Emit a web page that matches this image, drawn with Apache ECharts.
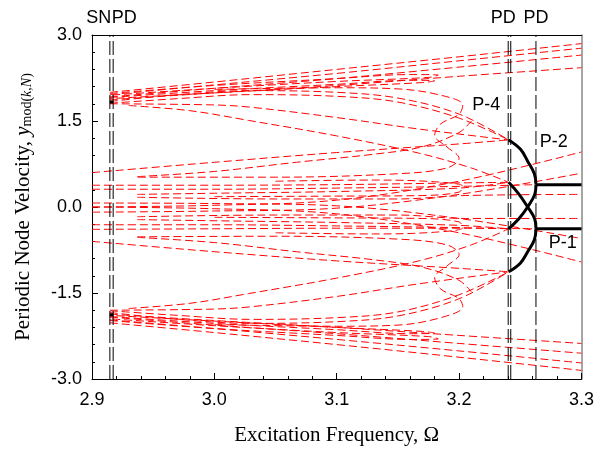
<!DOCTYPE html>
<html><head><meta charset="utf-8">
<script src="https://cdn.jsdelivr.net/npm/echarts@6/dist/echarts.min.js"></script>
<style>html,body{margin:0;padding:0;background:#fff}#c{width:597px;height:451px}</style>
</head><body><div id="c"></div>
<script>
// ---- axis ticks ----
const xTicks = [2.9, 3.0, 3.1, 3.2, 3.3];
const yTicks = [-3.0, -1.5, 0.0, 1.5, 3.0];

// ---- bifurcation points (Omega) ----
const bifSN = 2.9146;
const bifPD1 = 2.9173;
const bifPD2a = 3.2401;
const bifPD2b = 3.2422;
const bifPD3 = 3.2628;

// ---- stable (black) branches ----
const p1Upper = [[3.2628, 0.39], [3.3, 0.39]];
const p1Lower = [[3.2628, -0.38], [3.3, -0.38]];
const p2OuterUp = [[3.2405, 1.17], [3.250, 1.01], [3.256, 0.80], [3.2615, 0.58], [3.2628, 0.39]];
const p2InnerUp = [[3.2628, 0.39], [3.2618, 0.22], [3.256, 0.0], [3.249, -0.20], [3.2405, -0.38]];
const p2InnerLo = [[3.2628, -0.38], [3.2618, -0.21], [3.256, 0.0], [3.249, 0.22], [3.2405, 0.43]];
const p2OuterLo = [[3.2628, -0.38], [3.2615, -0.57], [3.256, -0.78], [3.250, -0.98], [3.2405, -1.13]];
const snMarkUp = [[2.9146, 1.83], [2.9173, 1.83]];
const snMarkLo = [[2.9146, -1.88], [2.9173, -1.88]];

// ---- unstable (red dashed) branches ----
const outerU1 = [[2.9146, 2.00], [3.0, 2.18], [3.1, 2.40], [3.2, 2.62], [3.3, 2.85]];
const outerU2 = [[2.9146, 1.96], [3.0, 2.13], [3.1, 2.33], [3.2, 2.55], [3.3, 2.77]];
const outerU3 = [[2.9146, 1.92], [3.0, 2.07], [3.1, 2.24], [3.2, 2.44], [3.3, 2.65]];
const outerU4 = [[2.9146, 1.87], [3.0, 1.99], [3.1, 2.12], [3.2, 2.28], [3.3, 2.43]];
const outerL1 = [[2.9146, -2.02], [3.0, -2.19], [3.1, -2.40], [3.2, -2.62], [3.3, -2.85]];
const outerL2 = [[2.9146, -1.97], [3.0, -2.12], [3.1, -2.31], [3.2, -2.51], [3.3, -2.72]];
const outerL3 = [[2.9146, -1.92], [3.0, -2.06], [3.1, -2.21], [3.2, -2.38], [3.3, -2.55]];
const outerL4 = [[2.9146, -1.87], [3.0, -1.98], [3.1, -2.10], [3.2, -2.24], [3.3, -2.38]];

const foldU1 = [[2.9146, 1.98], [3.0, 2.12], [3.1, 2.24], [3.16, 2.31], [3.183, 2.30], [3.175, 2.26], [3.1, 2.19], [3.0, 2.07], [2.9146, 1.95]];
const foldU2 = [[2.9146, 1.91], [3.0, 2.03], [3.1, 2.14], [3.16, 2.21], [3.18, 2.20], [3.17, 2.17], [3.1, 2.10], [3.0, 1.99], [2.9146, 1.89]];
const foldL1 = [[2.9146, -1.98], [3.0, -2.12], [3.1, -2.24], [3.16, -2.31], [3.183, -2.30], [3.175, -2.26], [3.1, -2.19], [3.0, -2.07], [2.9146, -1.95]];
const foldL2 = [[2.9146, -1.91], [3.0, -2.03], [3.1, -2.14], [3.16, -2.21], [3.18, -2.20], [3.17, -2.17], [3.1, -2.10], [3.0, -1.99], [2.9146, -1.89]];

const descU1 = [[2.9146, 1.84], [2.97, 1.96], [3.03, 2.03], [3.1, 2.0], [3.15, 1.90], [3.2, 1.62], [3.2405, 1.17]];
const descU2 = [[2.9146, 1.81], [2.97, 1.89], [3.03, 1.96], [3.1, 1.93], [3.15, 1.83], [3.2, 1.55], [3.2405, 1.17]];
const descU3 = [[2.9146, 1.80], [3.0, 1.78], [3.03, 1.74], [3.1, 1.56], [3.167, 1.36], [3.2405, 1.17]];
const descU4 = [[2.93, 1.77], [2.98, 1.68], [3.028, 1.51], [3.1, 1.24], [3.167, 0.94], [3.21, 0.68], [3.2405, 0.43]];
const descL1 = [[2.9146, -1.84], [2.97, -1.96], [3.03, -2.03], [3.1, -2.0], [3.15, -1.90], [3.2, -1.60], [3.2405, -1.13]];
const descL2 = [[2.9146, -1.81], [2.97, -1.89], [3.03, -1.96], [3.1, -1.93], [3.15, -1.83], [3.2, -1.53], [3.2405, -1.13]];
const descL3 = [[2.9146, -1.80], [3.0, -1.78], [3.03, -1.74], [3.1, -1.56], [3.167, -1.34], [3.2405, -1.13]];
const descL4 = [[2.93, -1.77], [2.98, -1.68], [3.028, -1.51], [3.1, -1.24], [3.167, -0.94], [3.21, -0.66], [3.2405, -0.38]];

const snakeU = [[3.0, 2.05], [3.1, 2.08], [3.15, 2.06], [3.185, 1.95], [3.203, 1.78], [3.2, 1.62], [3.185, 1.45], [3.18, 1.25], [3.19, 1.05], [3.2, 0.85], [3.19, 0.68], [3.15, 0.58], [3.05, 0.52], [2.937, 0.52]];
const snakeL = [[3.0, -2.05], [3.1, -2.08], [3.15, -2.06], [3.185, -1.93], [3.203, -1.74], [3.2, -1.60], [3.185, -1.43], [3.18, -1.23], [3.19, -1.03], [3.2, -0.83], [3.19, -0.66], [3.15, -0.56], [3.05, -0.51], [2.937, -0.52]];
const riseU = [[2.937, 0.53], [3.0, 0.62], [3.067, 0.78], [3.13, 0.92], [3.17, 1.05], [3.2, 1.30], [3.21, 1.50]];
const riseL = [[2.937, -0.53], [3.0, -0.62], [3.067, -0.78], [3.13, -0.92], [3.17, -1.05], [3.2, -1.28], [3.21, -1.48]];

const p2UnstUp = [[2.9, 0.60], [3.0, 0.78], [3.1, 0.95], [3.2, 1.10], [3.2405, 1.17]];
const p2UnstLo = [[2.9, -0.60], [3.0, -0.78], [3.1, -0.94], [3.2, -1.07], [3.2405, -1.13]];
const p2UnstUp2 = [[2.9, 0.38], [3.0, 0.38], [3.1, 0.39], [3.2, 0.42], [3.2405, 0.43]];
const p2UnstLo2 = [[2.9, -0.31], [3.0, -0.31], [3.1, -0.33], [3.2, -0.36], [3.2405, -0.38]];
const p1UnstUp = [[2.9, 0.31], [3.0, 0.31], [3.1, 0.33], [3.2, 0.36], [3.2628, 0.39]];
const p1UnstLo = [[2.9, -0.39], [3.0, -0.38], [3.1, -0.37], [3.2, -0.37], [3.2628, -0.38]];

const crossA = [[2.9, 0.07], [3.0, 0.06], [3.1, 0.02], [3.2, -0.20], [3.3, -0.55]];
const crossB = [[2.9, -0.09], [3.0, -0.07], [3.1, -0.02], [3.2, 0.22], [3.3, 0.59]];
const crossC = [[2.9, 0.0], [3.0, 0.03], [3.1, 0.12], [3.2, 0.45], [3.3, 0.96]];
const crossD = [[2.9, 0.0], [3.0, -0.03], [3.1, -0.12], [3.2, -0.45], [3.3, -0.96]];
const crossE = [[2.937, 0.17], [3.05, 0.14], [3.15, 0.14], [3.205, 0.20], [3.3, 0.22]];
const crossF = [[2.937, -0.17], [3.05, -0.14], [3.15, -0.14], [3.205, -0.20], [3.3, -0.20]];
const midU = [[2.937, 0.22], [3.0, 0.24], [3.1, 0.27], [3.2, 0.33], [3.2405, 0.43]];
const midL = [[2.937, -0.22], [3.0, -0.24], [3.1, -0.27], [3.2, -0.32], [3.2405, -0.38]];
const noseU = [[3.05, 0.45], [3.13, 0.47], [3.18, 0.44], [3.203, 0.36], [3.2, 0.26], [3.17, 0.20], [3.1, 0.19], [3.0, 0.18]];
const noseL = [[3.05, -0.45], [3.13, -0.47], [3.18, -0.44], [3.203, -0.36], [3.2, -0.26], [3.17, -0.20], [3.1, -0.19], [3.0, -0.18]];

const redCurves = [outerU1, outerU2, outerU3, outerU4, outerL1, outerL2, outerL3, outerL4,
  foldU1, foldU2, foldL1, foldL2, descU1, descU2, descU3, descU4, descL1, descL2, descL3, descL4,
  snakeU, snakeL, riseU, riseL, p2UnstUp, p2UnstLo, p2UnstUp2, p2UnstLo2, p1UnstUp, p1UnstLo,
  crossA, crossB, crossC, crossD, crossE, crossF, midU, midL, noseU, noseL];
const blackCurves = [p1Upper, p1Lower, p2OuterUp, p2InnerUp, p2InnerLo, p2OuterLo, snMarkUp, snMarkLo];
const vLines = [bifSN, bifPD1, bifPD2a, bifPD2b, bifPD3];

const chart = echarts.init(document.getElementById('c'), null, {renderer: 'canvas'});
const series = [];
redCurves.forEach(d => series.push({type: 'line', data: d, symbol: 'none', smooth: 0.35, silent: true,
  lineStyle: {color: '#ff0000', width: 1, type: [8, 4]}, z: 2}));
vLines.forEach(v => series.push({type: 'line', data: [[v, -3], [v, 3]], symbol: 'none', silent: true,
  lineStyle: {color: '#000', width: 1, type: [14, 4]}, z: 3}));
blackCurves.forEach(d => series.push({type: 'line', data: d, symbol: 'none', smooth: 0.4, silent: true,
  lineStyle: {color: '#000', width: 3}, z: 4}));

const tickFont = {fontFamily: 'Liberation Sans', fontSize: 18, color: '#000'};
chart.setOption({
  animation: false,
  grid: {left: 92, right: 13, top: 35, bottom: 72},
  xAxis: [{
    type: 'value', min: 2.9, max: 3.3, interval: 0.1,
    axisLine: {onZero: false, lineStyle: {color: '#000', width: 1}},
    axisTick: {inside: true, length: 6, lineStyle: {color: '#000'}},
    minorTick: {show: true, splitNumber: 5, length: 3, lineStyle: {color: '#000'}},
    splitLine: {show: false},
    axisLabel: Object.assign({margin: 12, formatter: v => v.toFixed(1)}, tickFont),
    name: 'Excitation Frequency, Ω', nameLocation: 'middle', nameGap: 46,
    nameTextStyle: {fontFamily: 'Liberation Serif', fontSize: 21, color: '#000'}
  }, {
    type: 'value', position: 'top', min: 2.9, max: 3.3,
    axisLine: {onZero: false, lineStyle: {color: '#000', width: 1}}, axisTick: {show: false}, axisLabel: {show: false}, splitLine: {show: false}
  }],
  yAxis: [{
    type: 'value', min: -3, max: 3, interval: 1.5,
    axisLine: {onZero: false, lineStyle: {color: '#000', width: 1}},
    axisTick: {inside: true, length: 6, lineStyle: {color: '#000'}},
    minorTick: {show: true, splitNumber: 5, length: 3, lineStyle: {color: '#000'}},
    splitLine: {show: false},
    axisLabel: Object.assign({margin: 10, formatter: v => v.toFixed(1)}, tickFont),
    name: '{a|Periodic Node Velocity, }{i|y}{s|mod(}{si|k}{s|,}{si|N}{s|)}', nameLocation: 'middle', nameGap: 58, nameRotate: 90,
    nameTextStyle: {rich: {
      a: {fontFamily: 'Liberation Serif', fontSize: 21, color: '#000'},
      i: {fontFamily: 'Liberation Serif', fontSize: 21, fontStyle: 'italic', color: '#000'},
      s: {fontFamily: 'Liberation Serif', fontSize: 14, color: '#000', padding: [8, 0, 0, 0]},
      si: {fontFamily: 'Liberation Serif', fontSize: 14, fontStyle: 'italic', color: '#000', padding: [8, 0, 0, 0]}
    }}
  }, {
    type: 'value', position: 'right', min: -3, max: 3,
    axisLine: {onZero: false, lineStyle: {color: '#888', width: 1.5}}, axisTick: {show: false}, axisLabel: {show: false}, splitLine: {show: false}
  }],
  series: series
});

const annos = [
  {t: 'SN', x: bifSN, y: 3.0, dx: -11, dy: -17},
  {t: 'PD', x: bifPD1, y: 3.0, dx: 11, dy: -17},
  {t: 'PD', x: bifPD2a, y: 3.0, dx: -5, dy: -17},
  {t: 'PD', x: bifPD3, y: 3.0, dx: 0, dy: -17},
  {t: 'P-4', x: 3.21, y: 1.78, dx: 15, dy: 0},
  {t: 'P-2', x: 3.265, y: 1.15, dx: 15, dy: 1},
  {t: 'P-1', x: 3.27, y: -0.62, dx: 18, dy: 0}
];
const g = annos.map(a => {
  const p = chart.convertToPixel({xAxisIndex: 0, yAxisIndex: 0}, [a.x, a.y]);
  return {type: 'text', x: p[0] + a.dx, y: p[1] + a.dy, z: 10,
    style: {text: a.t, font: '18px "Liberation Sans"', fill: '#000', textAlign: 'center', textVerticalAlign: 'middle'}};
});
chart.setOption({graphic: g});
</script></body></html>
